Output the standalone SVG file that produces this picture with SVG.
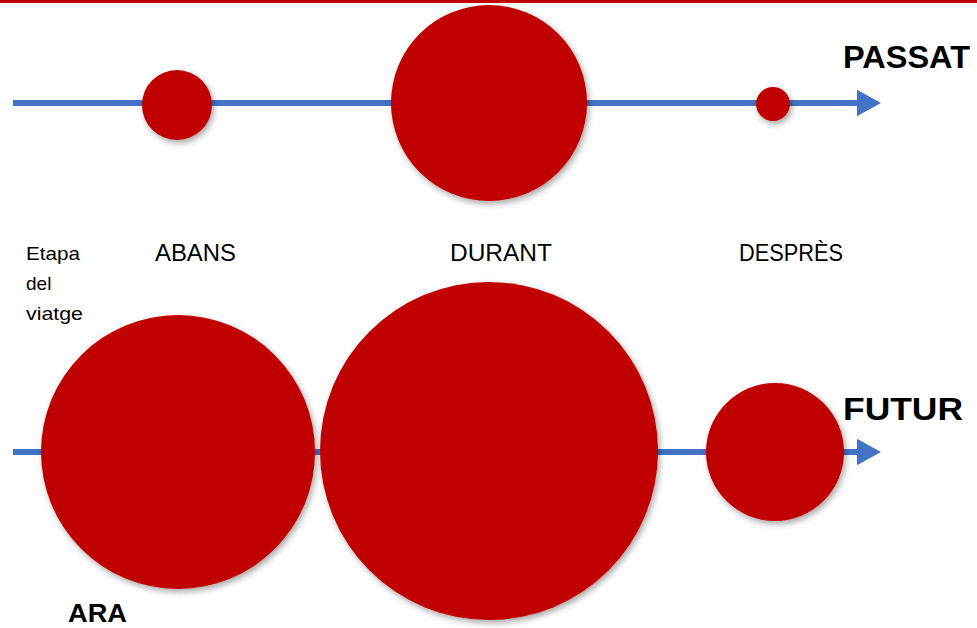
<svg xmlns="http://www.w3.org/2000/svg" width="977" height="628" viewBox="0 0 977 628">
  <defs>
    <filter id="shadow" x="-20%" y="-20%" width="150%" height="150%">
      <feDropShadow dx="2" dy="3" stdDeviation="3" flood-color="#000" flood-opacity="0.35"/>
    </filter>
    <marker id="head" markerWidth="4" markerHeight="4.4" refX="0" refY="2.2" orient="auto" markerUnits="strokeWidth">
      <path d="M0,0 L4,2.2 L0,4.4 Z" fill="#4472c4"/>
    </marker>
  </defs>
  <style>
    .axis { stroke: #4472c4; stroke-width: 6; fill: none; }
    .dot { fill: #c00000; filter: url(#shadow); }
    .lbl { font-family: "Liberation Sans", Arial, sans-serif; fill: #000; }
    .stage { font-size: 24px; }
    .small { font-size: 19px; }
    .big { font-size: 32px; font-weight: bold; }
  </style>

  <rect x="0" y="0" width="977" height="3" fill="#c00000"/>

  <g id="connectors">
    <line class="axis" x1="13" y1="103" x2="857" y2="103" marker-end="url(#head)"/>
    <line class="axis" x1="13" y1="452" x2="857" y2="452" marker-end="url(#head)"/>
  </g>

  <g id="passat-abans"><circle class="dot" cx="177" cy="105" r="35"/></g>
  <g id="passat-durant"><circle class="dot" cx="489" cy="103" r="98"/></g>
  <g id="passat-despres"><circle class="dot" cx="773" cy="104" r="17"/></g>

  <g id="futur-abans"><circle class="dot" cx="178" cy="452" r="137"/></g>
  <g id="futur-durant"><circle class="dot" cx="489" cy="451" r="169"/></g>
  <g id="futur-despres"><circle class="dot" cx="775" cy="452" r="69"/></g>

  <g id="labels">
    <text class="lbl big" x="843" y="68" textLength="127" lengthAdjust="spacingAndGlyphs">PASSAT</text>
    <text class="lbl big" x="843" y="420" textLength="120" lengthAdjust="spacingAndGlyphs">FUTUR</text>
    <text class="lbl big" x="68" y="622" style="font-size:25px" textLength="59" lengthAdjust="spacingAndGlyphs">ARA</text>
    <text class="lbl stage" x="155" y="261" textLength="81" lengthAdjust="spacingAndGlyphs">ABANS</text>
    <text class="lbl stage" x="450" y="261" textLength="102" lengthAdjust="spacingAndGlyphs">DURANT</text>
    <text class="lbl stage" x="739" y="261" textLength="104" lengthAdjust="spacingAndGlyphs">DESPRÈS</text>
    <text class="lbl small" x="26" y="260" textLength="54" lengthAdjust="spacingAndGlyphs">Etapa</text>
    <text class="lbl small" x="26" y="290">del</text>
    <text class="lbl small" x="26" y="320" textLength="57" lengthAdjust="spacingAndGlyphs">viatge</text>
  </g>
</svg>
